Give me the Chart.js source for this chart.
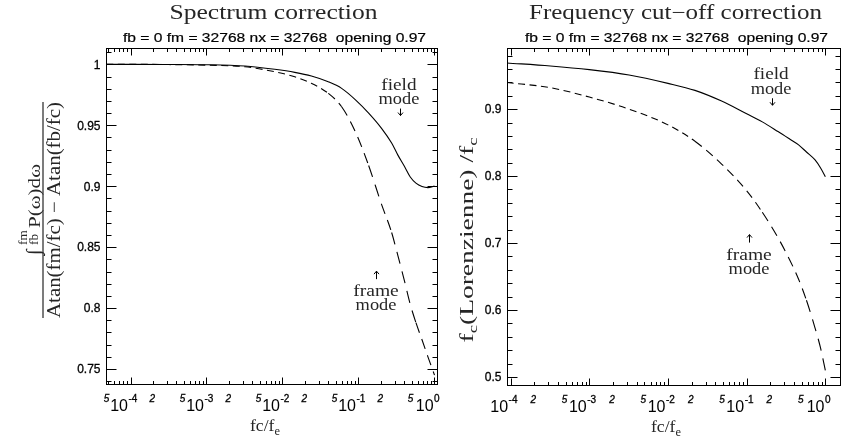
<!DOCTYPE html>
<html><head><meta charset="utf-8">
<script src="https://cdn.jsdelivr.net/npm/chart.js@4/dist/chart.umd.min.js"></script>
<style>
html,body{margin:0;padding:0;background:#fff;width:841px;height:438px;overflow:hidden}
canvas{position:absolute;left:0;top:0}
</style></head><body>
<canvas id="c1" width="841" height="438"></canvas>
<canvas id="c2" width="841" height="438"></canvas>
<script>
// ---------------- data ----------------
// Left: Spectrum correction
const specFc    = [4.8e-5, 1e-4, 3.2e-4, 1e-3, 3.2e-3, 7.9e-3, 0.0145, 0.024, 0.04, 0.06, 0.092, 0.136, 0.2, 0.273, 0.33, 0.40, 0.48, 0.57, 0.685, 0.82, 1.0];
const specField = [1.0, 1.0, 0.9999, 0.9997, 0.9986, 0.9959, 0.9934, 0.9904, 0.9857, 0.9803, 0.9707, 0.960, 0.9477, 0.9354, 0.9255, 0.9165, 0.9075, 0.9025, 0.8997, 0.8988, 0.9001];
const specFrame = [1.0, 1.0, 0.9998, 0.9993, 0.998, 0.9939, 0.9898, 0.9844, 0.9762, 0.9652, 0.944, 0.917, 0.8855, 0.862, 0.843, 0.823, 0.803, 0.788, 0.774, 0.760, 0.745];
const specYTickVals   = [1.0, 0.95, 0.9, 0.85, 0.8, 0.75];
const specYTickLabels = ['1', '0.95', '0.9', '0.85', '0.8', '0.75'];
const specXTickVals   = [5e-5, 1e-4, 2e-4, 5e-4, 1e-3, 2e-3, 5e-3, 1e-2, 2e-2, 5e-2, 1e-1, 2e-1, 5e-1, 1];
const specXTickLabels = ['5', '10^-4', '2', '5', '10^-3', '2', '5', '10^-2', '2', '5', '10^-1', '2', '5', '10^0'];

// Right: Frequency cut-off correction
const cutFc    = [8.9e-5, 3.2e-4, 1e-3, 3.2e-3, 0.01, 0.022, 0.048, 0.1, 0.158, 0.25, 0.355, 0.457, 0.575, 0.74, 0.87, 1.0];
const cutField = [0.969, 0.9645, 0.959, 0.951, 0.9385, 0.928, 0.912, 0.893, 0.881, 0.8665, 0.855, 0.8466, 0.836, 0.8241, 0.812, 0.799];
const cutFrame = [0.9398, 0.932, 0.918, 0.900, 0.8765, 0.852, 0.818, 0.778, 0.746, 0.708, 0.674, 0.646, 0.6145, 0.573, 0.543, 0.5097];
const cutYTickVals   = [0.9, 0.8, 0.7, 0.6, 0.5];
const cutYTickLabels = ['0.9', '0.8', '0.7', '0.6', '0.5'];
const cutXTickVals   = [1e-4, 2e-4, 5e-4, 1e-3, 2e-3, 5e-3, 1e-2, 2e-2, 5e-2, 1e-1, 2e-1, 5e-1, 1];
const cutXTickLabels = ['10^-4', '2', '5', '10^-3', '2', '5', '10^-2', '2', '5', '10^-1', '2', '5', '10^0'];

const subtitleText = 'fb = 0 fm = 32768 nx = 32768  opening 0.97';

// ---------------- helpers ----------------
const SERIF = '"Liberation Serif", "DejaVu Serif", serif';
const SANS = '"Liberation Sans", sans-serif';
const INK = '#262626';

function drawRich(ctx, parts, x, y, align, targetW, stretch, heavy) {
  let total = 0;
  parts.forEach(p => { ctx.font = p.font; p.w = ctx.measureText(p.t).width; total += p.w; });
  const s = targetW ? targetW / total : (stretch || 1);
  const W = total * s;
  let start = align === 'center' ? x - W / 2 : (align === 'right' ? x - W : x);
  ctx.save();
  ctx.textAlign = 'left';
  ctx.textBaseline = 'alphabetic';
  ctx.translate(start, y);
  ctx.scale(s, 1);
  let cx = 0;
  parts.forEach(p => {
    ctx.font = p.font; ctx.fillText(p.t, cx, p.dy || 0);
    if (heavy) { ctx.lineWidth = heavy; ctx.strokeStyle = '#000'; ctx.strokeText(p.t, cx, p.dy || 0); }
    cx += p.w;
  });
  ctx.restore();
}

function sansText(ctx, t, x, y) {
  ctx.save();
  ctx.fillText(t, x, y);
  ctx.lineWidth = 0.3; ctx.strokeText(t, x, y);
  ctx.restore();
}

function dashFor(c) {
  const dx = c.p1.x - c.p0.x, dy = c.p1.y - c.p0.y;
  const L = Math.hypot(dx, dy) || 1;
  const f = L / Math.hypot(dx, dy / 1.8);
  const q = Math.round(f * 4) / 4;
  return [7 * q, 4.5 * q];
}

function arrow(ctx, x, y0, y1) {
  ctx.save();
  ctx.strokeStyle = '#000'; ctx.lineWidth = 1;
  ctx.beginPath();
  ctx.moveTo(x + 0.5, y0); ctx.lineTo(x + 0.5, y1);
  const d = y1 > y0 ? -1 : 1;
  ctx.moveTo(x + 0.5 - 2.5, y1 + d * 3); ctx.lineTo(x + 0.5, y1); ctx.lineTo(x + 0.5 + 2.5, y1 + d * 3);
  ctx.stroke();
  ctx.restore();
}

function decor(cfg) {
  return {
    id: 'decor',
    afterDraw(chart) {
      const { ctx, chartArea: a } = chart;
      const xs = chart.scales.x, ys = chart.scales.y;
      ctx.save();
      ctx.strokeStyle = '#000'; ctx.fillStyle = '#000'; ctx.lineWidth = 1;
      const L = Math.round(a.left) + 0.5, R = Math.round(a.right) + 0.5;
      const T = Math.round(a.top) + 0.5, B = Math.round(a.bottom) + 0.5;
      ctx.strokeRect(L, T, R - L, B - T);
      // y ticks
      ctx.beginPath();
      const yStep = cfg.yMinor;
      const n0 = Math.ceil(ys.min / yStep - 1e-6), n1 = Math.floor(ys.max / yStep + 1e-6);
      for (let n = n0; n <= n1; n++) {
        const v = n * yStep;
        const py = Math.round(ys.getPixelForValue(v)) + 0.5;
        const major = cfg.yTickVals.some(t => Math.abs(t - v) < 1e-6);
        const len = major ? 10 : 5;
        ctx.moveTo(L, py); ctx.lineTo(L + len, py);
        ctx.moveTo(R, py); ctx.lineTo(R - len, py);
      }
      // x ticks
      const d0 = Math.floor(Math.log10(xs.min)), d1 = Math.ceil(Math.log10(xs.max));
      for (let d = d0; d <= d1; d++) {
        for (let m = 1; m <= 9; m++) {
          const v = m * Math.pow(10, d);
          if (v < xs.min || v > xs.max) continue;
          const px = Math.round(xs.getPixelForValue(v)) + 0.5;
          const len = m === 1 ? 7 : 3.5;
          ctx.moveTo(px, B); ctx.lineTo(px, B - len);
          ctx.moveTo(px, T); ctx.lineTo(px, T + len);
        }
      }
      ctx.stroke();
      // y tick labels
      ctx.font = '12px ' + SANS;
      ctx.textAlign = 'right'; ctx.textBaseline = 'middle';
      cfg.yTickVals.forEach((v, i) => {
        sansText(ctx, cfg.yTickLabels[i], L - 6, ys.getPixelForValue(v) + 1);
      });
      // x tick labels
      ctx.textBaseline = 'alphabetic';
      const base = B + 26;
      cfg.xTickVals.forEach((v, i) => {
        const px = xs.getPixelForValue(v);
        const lab = cfg.xTickLabels[i];
        if (lab.startsWith('10^')) {
          const exp = lab.slice(3);
          ctx.font = '16px ' + SANS; const w1 = ctx.measureText('10').width;
          ctx.font = '10px ' + SANS; const w2 = ctx.measureText(exp).width;
          const st = px - 7 - (w1 + w2) / 2;
          ctx.textAlign = 'left';
          ctx.font = '16px ' + SANS; ctx.fillText('10', st, base);
          ctx.font = '10px ' + SANS; sansText(ctx, exp, st + w1 + 0.5, base - 8.5);
        } else {
          ctx.font = 'italic 10px ' + SANS;
          ctx.textAlign = 'center';
          sansText(ctx, lab, px - 1, base - 8.5);
        }
      });
      ctx.fillStyle = INK;
      // x title
      drawRich(ctx, [
        { t: 'fc/f', font: '17px ' + SERIF },
        { t: 'e', font: '12px ' + SERIF, dy: 4 }
      ], cfg.xTitleX, B + 46, 'center', 30);
      // titles
      const cx = (a.left + a.right) / 2;
      drawRich(ctx, [{ t: cfg.title, font: '20px ' + SERIF }], cx + 2, 19, 'center', cfg.titleW);
      ctx.fillStyle = '#000';
      drawRich(ctx, [{ t: subtitleText, font: '13px ' + SANS }], cx + 3, 41.5, 'center', 303, null, 0.2);
      ctx.fillStyle = INK;
      // y title
      cfg.yTitle(ctx);
      // annotations
      const an = cfg.ann;
      {
        const px = xs.getPixelForValue(an.fieldX), py = ys.getPixelForValue(an.fieldY);
        drawRich(ctx, [{ t: 'field', font: '17px ' + SERIF }], px, py, 'center', null, 1.13);
        drawRich(ctx, [{ t: 'mode', font: '17px ' + SERIF }], px, py + 14.5, 'center', null, 1.08);
        arrow(ctx, Math.round(px + 1), py + 19, py + 26);
      }
      {
        const px = xs.getPixelForValue(an.frameX), py = ys.getPixelForValue(an.frameY);
        drawRich(ctx, [{ t: 'frame', font: '17px ' + SERIF }], px, py, 'center', null, 1.15);
        drawRich(ctx, [{ t: 'mode', font: '17px ' + SERIF }], px, py + 14, 'center', null, 1.08);
        arrow(ctx, Math.round(px), py - 17, py - 25);
      }
      ctx.restore();
    }
  };
}

function makeChart(id, cfg) {
  const line = { borderColor: '#000', borderWidth: 1.1, pointRadius: 0, fill: false, cubicInterpolationMode: 'monotone' };
  return new Chart(document.getElementById(id), {
    type: 'line',
    data: {
      datasets: [
        Object.assign({ data: cfg.fc.map((x, i) => ({ x, y: cfg.field[i] })) }, line),
        Object.assign({ data: cfg.fc.map((x, i) => ({ x, y: cfg.frame[i] })),
          borderDash: [7, 4.5], segment: { borderDash: c => dashFor(c) } }, line)
      ]
    },
    options: {
      responsive: false, animation: false, devicePixelRatio: 1, events: [],
      layout: { padding: cfg.pad },
      plugins: { legend: { display: false }, tooltip: { enabled: false }, title: { display: false } },
      scales: {
        x: { type: 'logarithmic', min: cfg.xmin, max: cfg.xmax, display: false },
        y: { type: 'linear', min: cfg.ymin, max: cfg.ymax, display: false }
      }
    },
    plugins: [decor(cfg)]
  });
}

makeChart('c1', {
  fc: specFc, field: specField, frame: specFrame,
  xmin: 4.76e-5, xmax: 1.079, ymin: 0.7377, ymax: 1.0134,
  pad: { left: 106, right: 404, top: 48, bottom: 54 },
  yTickVals: specYTickVals, yTickLabels: specYTickLabels, yMinor: 0.01,
  xTickVals: specXTickVals, xTickLabels: specXTickLabels,
  title: 'Spectrum correction', titleW: 208, xTitleX: 265,
  ann: { fieldX: 0.34, fieldY: 0.9793, frameX: 0.17, frameY: 0.8098 },
  yTitle(ctx) {
    ctx.save();
    ctx.translate(43, 210);
    ctx.rotate(-Math.PI / 2);
    ctx.fillRect(-108, -0.6, 216, 1.2);
    drawRich(ctx, [{ t: 'Atan(fm/fc) \u2212 Atan(fb/fc)', font: '18px ' + SERIF }], 0, 17, 'center', 216);
    ctx.textAlign = 'left';
    ctx.font = '20px ' + SERIF;
    ctx.fillText('\u222B', -45, -3);
    drawRich(ctx, [{ t: 'fm', font: '12px ' + SERIF }], -35, -16, 'left', null, 1.1);
    drawRich(ctx, [{ t: 'fb', font: '12px ' + SERIF }], -35, -5, 'left', null, 1.1);
    drawRich(ctx, [{ t: 'P(\u03C9)d\u03C9', font: '17px ' + SERIF }], -18, -3.5, 'left', 64);
    ctx.restore();
  }
});

makeChart('c2', {
  fc: cutFc, field: cutField, frame: cutFrame,
  xmin: 8.99e-5, xmax: 1.535, ymin: 0.488, ymax: 0.9913,
  pad: { left: 507, right: 1, top: 48, bottom: 53 },
  yTickVals: cutYTickVals, yTickLabels: cutYTickLabels, yMinor: 0.02,
  xTickVals: cutXTickVals, xTickLabels: cutXTickLabels,
  title: 'Frequency cut\u2212off correction', titleW: 293, xTitleX: 666,
  ann: { fieldX: 0.204, fieldY: 0.9446, frameX: 0.107, frameY: 0.6753 },
  yTitle(ctx) {
    ctx.save();
    ctx.translate(468, 240);
    ctx.rotate(-Math.PI / 2);
    drawRich(ctx, [
      { t: 'f', font: '19px ' + SERIF },
      { t: 'c', font: '13px ' + SERIF, dy: 4 },
      { t: '(Lorenzienne) /f', font: '19px ' + SERIF },
      { t: 'c', font: '13px ' + SERIF, dy: 4 }
    ], 0, 5, 'center', 205);
    ctx.restore();
  }
});
</script>
</body></html>
